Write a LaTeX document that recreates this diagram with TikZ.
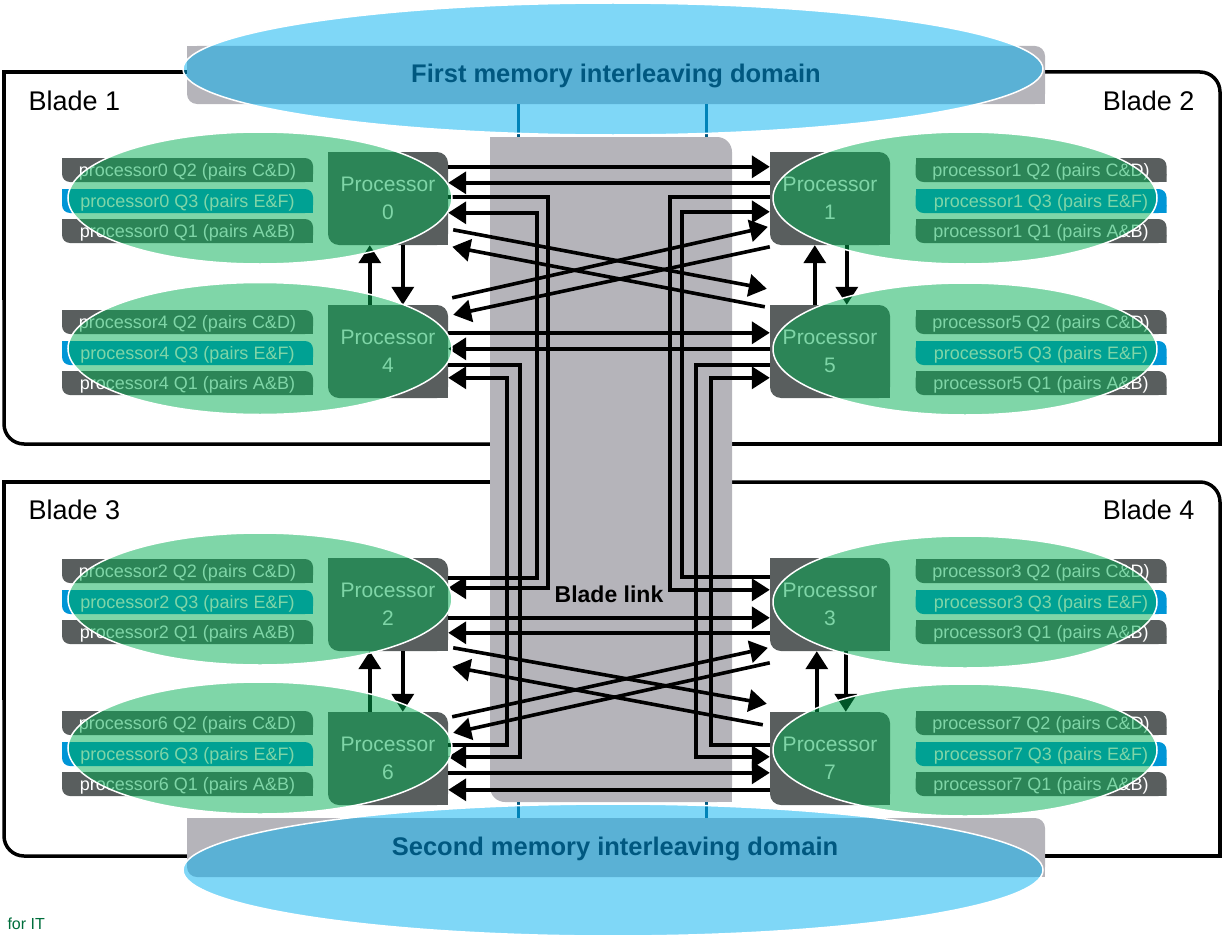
\documentclass[tikz,border=0pt]{standalone}
\usepackage{fontspec}
\setmainfont{Liberation Sans}
\usetikzlibrary{shapes.geometric,arrows.meta,calc}
\definecolor{qgray}{RGB}{89,94,94}
\definecolor{qblue}{RGB}{0,150,214}
\definecolor{cpugreen}{RGB}{0,173,81}
\definecolor{linkgray}{RGB}{181,180,186}
\definecolor{memblue}{RGB}{0,175,240}
\definecolor{memtext}{RGB}{0,88,128}
\definecolor{footgreen}{RGB}{0,110,60}
\begin{document}
\begin{tikzpicture}[x=1pt,y=-1pt,
  leaf/.style 2 args={path picture={
     \fill[#1,rounded corners=#2] (path picture bounding box.south west) rectangle (path picture bounding box.north east);
     \fill[#1] (path picture bounding box.north west) rectangle ++(#2,-#2);
     \fill[#1] (path picture bounding box.south east) rectangle ++(-#2,#2);}},
  qbar/.style={minimum width=251pt, minimum height=24pt, inner sep=0pt, text=white,
     font=\fontsize{18}{18}\selectfont, text height=13pt, text depth=0pt, leaf={qgray}{8pt}},
  qbarblue/.style={qbar, leaf={qblue}{8pt}},
  proc/.style={minimum width=120pt, minimum height=93pt, inner sep=0pt, text=white, align=center,
     font=\fontsize{21}{28}\selectfont, leaf={qgray}{11pt}},
  cpu/.style={ellipse, minimum width=384pt, minimum height=132pt, inner sep=0pt,
     fill=cpugreen, fill opacity=0.5, draw=white, line width=1.5pt},
  mem/.style={ellipse, minimum width=860pt, minimum height=132pt, inner sep=0pt,
     fill=memblue, fill opacity=0.5, draw=white, line width=1.5pt},
  slab/.style 2 args={minimum width=#1, minimum height=#2, inner sep=0pt},
  arr/.style={draw, line width=3.6pt, -{Triangle[length=18pt,width=22pt]}},
  frame/.style={draw, line width=3.5pt},
  bladelbl/.style={font=\fontsize{27}{27}\selectfont, anchor=base west},
  memlbl/.style={font=\bfseries\fontsize{25.5}{25.5}\selectfont, text=memtext, anchor=base},
  memwire/.style={draw=memtext, line width=3pt}
]
\useasboundingbox (0,0) rectangle (1223,934);
\clip (0,0) rectangle (1223,934);

% blade frames
\draw[frame] (300,72) -- (4,72) -- (4,300);
\draw[frame, rounded corners=20pt] (4,290) -- (4,444) -- (600,444);
\draw[frame, rounded corners=20pt] (900,72) -- (1220,72) -- (1220,300);
\draw[frame] (1220,290) -- (1220,444) -- (650,444);
\draw[frame] (600,482) -- (4,482) -- (4,700);
\draw[frame, rounded corners=20pt] (4,690) -- (4,856) -- (300,856);
\draw[frame, rounded corners=20pt] (650,482) -- (1220,482) -- (1220,700);
\draw[frame] (1220,690) -- (1220,856) -- (900,856);

% blade link and memory bars
\node[slab={242pt}{665pt}, leaf={linkgray}{15pt}] (link) at (611,469.5) {};
\node[slab={858pt}{58pt}, leaf={linkgray}{10pt}] (mr1) at (616,75) {};
\node[slab={858pt}{59pt}, leaf={linkgray}{10pt}] (mr2) at (616,847.5) {};
\draw[memwire] ($(mr1.south west)+(332,0)$) -- ($(link.north west)+(29,0)$);
\draw[memwire] ($(mr1.south west)+(520,0)$) -- ($(link.north west)+(217,0)$);
\draw[memwire] ($(link.south west)+(29,0)$) -- ($(mr2.north west)+(332,0)$);
\draw[memwire] ($(link.south west)+(217,0)$) -- ($(mr2.north west)+(520,0)$);

% processors and queue bars
\foreach \n/\yb/\yq in {0/198.5/170, 4/351.5/322, 2/604.5/571, 6/758.5/723} {
  \node[proc] (p\n) at (388,\yb) {Processor\\\n};
  \node[qbar] (q\n-2) at (187.5,\yq) {processor\n{} Q2 (pairs C\&D)};
  \node[qbarblue] (q\n-3) at (187.5,{\yq+31}) {processor\n{} Q3 (pairs E\&F)};
  \node[qbar] (q\n-1) at (187.5,{\yq+61}) {processor\n{} Q1 (pairs A\&B)};
}
\foreach \n/\yb/\yq in {1/198.5/170, 5/351.5/322, 3/604.5/571, 7/758.5/723} {
  \node[proc] (p\n) at (830,\yb) {Processor\\\n};
  \node[qbar] (q\n-2) at (1041,\yq) {processor\n{} Q2 (pairs C\&D)};
  \node[qbarblue] (q\n-3) at (1041,{\yq+31}) {processor\n{} Q3 (pairs E\&F)};
  \node[qbar] (q\n-1) at (1041,{\yq+61}) {processor\n{} Q1 (pairs A\&B)};
}

% ---- links, upper half
\draw[arr] ($(p0.north east)+(0,15)$) -- ($(p1.north west)+(0,15)$);
\draw[arr] ($(p1.north west)+(0,31)$) -- ($(p0.north east)+(0,31)$);
\draw[arr] ($(p4.north east)+(0,28)$) -- ($(p5.north west)+(0,28)$);
\draw[arr] ($(p5.north west)+(0,44)$) -- ($(p4.north east)+(0,44)$);
\draw[arr] ($(p0.north east)+(5,78)$) -- ($(p1.north west)+(-3,137)$);
\draw[arr] ($(p1.north west)+(-5,155)$) -- ($(p0.north east)+(4,95)$);
\draw[arr] ($(p4.north east)+(4,-7)$) -- ($(p1.north west)+(-2,75)$);
\draw[arr] ($(p1.north west)+(0,95)$) -- ($(p4.north east)+(5,10)$);
% ---- links between blades
\draw[arr] ($(p0.north east)+(0,45)$) -- ++(100,0) |- ($(p2.north east)+(0,30)$);
\draw[arr] ($(p2.north east)+(0,20)$) -- ++(89,0) |- ($(p0.north east)+(0,61)$);
\draw[arr] ($(p1.north west)+(0,45)$) -- ++(-100,0) |- ($(p3.north west)+(0,32)$);
\draw[arr] ($(p3.north west)+(0,19)$) -- ++(-88,0) |- ($(p1.north west)+(0,60)$);
\draw[arr] ($(p4.north east)+(0,60)$) -- ++(72,0) |- ($(p6.north east)+(0,45)$);
\draw[arr] ($(p6.north east)+(0,33)$) -- ++(59,0) |- ($(p4.north east)+(0,73)$);
\draw[arr] ($(p5.north west)+(0,60)$) -- ++(-74,0) |- ($(p7.north west)+(0,45)$);
\draw[arr] ($(p7.north west)+(0,33)$) -- ++(-59,0) |- ($(p5.north west)+(0,73)$);
% ---- links, lower half
\draw[arr] ($(p2.north east)+(0,60)$) -- ($(p3.north west)+(0,60)$);
\draw[arr] ($(p3.north west)+(0,75)$) -- ($(p2.north east)+(0,75)$);
\draw[arr] ($(p6.north east)+(0,61)$) -- ($(p7.north west)+(0,61)$);
\draw[arr] ($(p7.north west)+(0,78)$) -- ($(p6.north east)+(0,78)$);
\draw[arr] ($(p2.north east)+(5,90)$) -- ($(p3.north west)+(-3,146)$);
\draw[arr] ($(p3.north west)+(-7,167)$) -- ($(p2.north east)+(4,109)$);
\draw[arr] ($(p6.north east)+(4,5)$) -- ($(p3.north west)+(-2,90)$);
\draw[arr] ($(p3.north west)+(0,105)$) -- ($(p6.north east)+(5,21)$);
% ---- links inside a blade
\draw[arr] ($(p4.north west)+(42,0)$) -- ($(p0.south west)+(42,0)$);
\draw[arr] ($(p0.south west)+(75,0)$) -- ($(p4.north west)+(75,0)$);
\draw[arr] ($(p5.north west)+(45,0)$) -- ($(p1.south west)+(45,0)$);
\draw[arr] ($(p1.south west)+(77,0)$) -- ($(p5.north west)+(77,0)$);
\draw[arr] ($(p6.north west)+(42,0)$) -- ($(p2.south west)+(42,0)$);
\draw[arr] ($(p2.south west)+(75,0)$) -- ($(p6.north west)+(75,0)$);
\draw[arr] ($(p7.north west)+(47,0)$) -- ($(p3.south west)+(47,0)$);
\draw[arr] ($(p3.south west)+(76,0)$) -- ($(p7.north west)+(76,0)$);

% processor ellipses
\node[cpu] (e0) at (260,198) {};
\node[cpu] (e4) at (260,348.5) {};
\node[cpu] (e2) at (260,599) {};
\node[cpu] (e6) at (260,748) {};
\node[cpu] (e1) at (965,198) {};
\node[cpu] (e5) at (965,349) {};
\node[cpu] (e3) at (965,602) {};
\node[cpu] (e7) at (965,750) {};

% memory domains
\node[mem] (m1) at (613,69) {};
\node[mem] (m2) at (613,870) {};
\node[memlbl] (t1) at (616,82) {First memory interleaving domain};
\node[memlbl] (t2) at (615,855) {Second memory interleaving domain};

% labels
\node[bladelbl] (b1) at (25,110) {Blade 1};
\node[bladelbl, anchor=base east] (b2) at (1198,110) {Blade 2};
\node[bladelbl] (b3) at (25,519) {Blade 3};
\node[bladelbl, anchor=base east] (b4) at (1198,519) {Blade 4};
\node[font=\bfseries\fontsize{23}{23}\selectfont, anchor=base] (bl) at (609,602) {Blade link};
\node[font=\fontsize{16}{16}\selectfont, text=footgreen, anchor=base west] (foot) at (4,929) {for IT};
\end{tikzpicture}
\end{document}
